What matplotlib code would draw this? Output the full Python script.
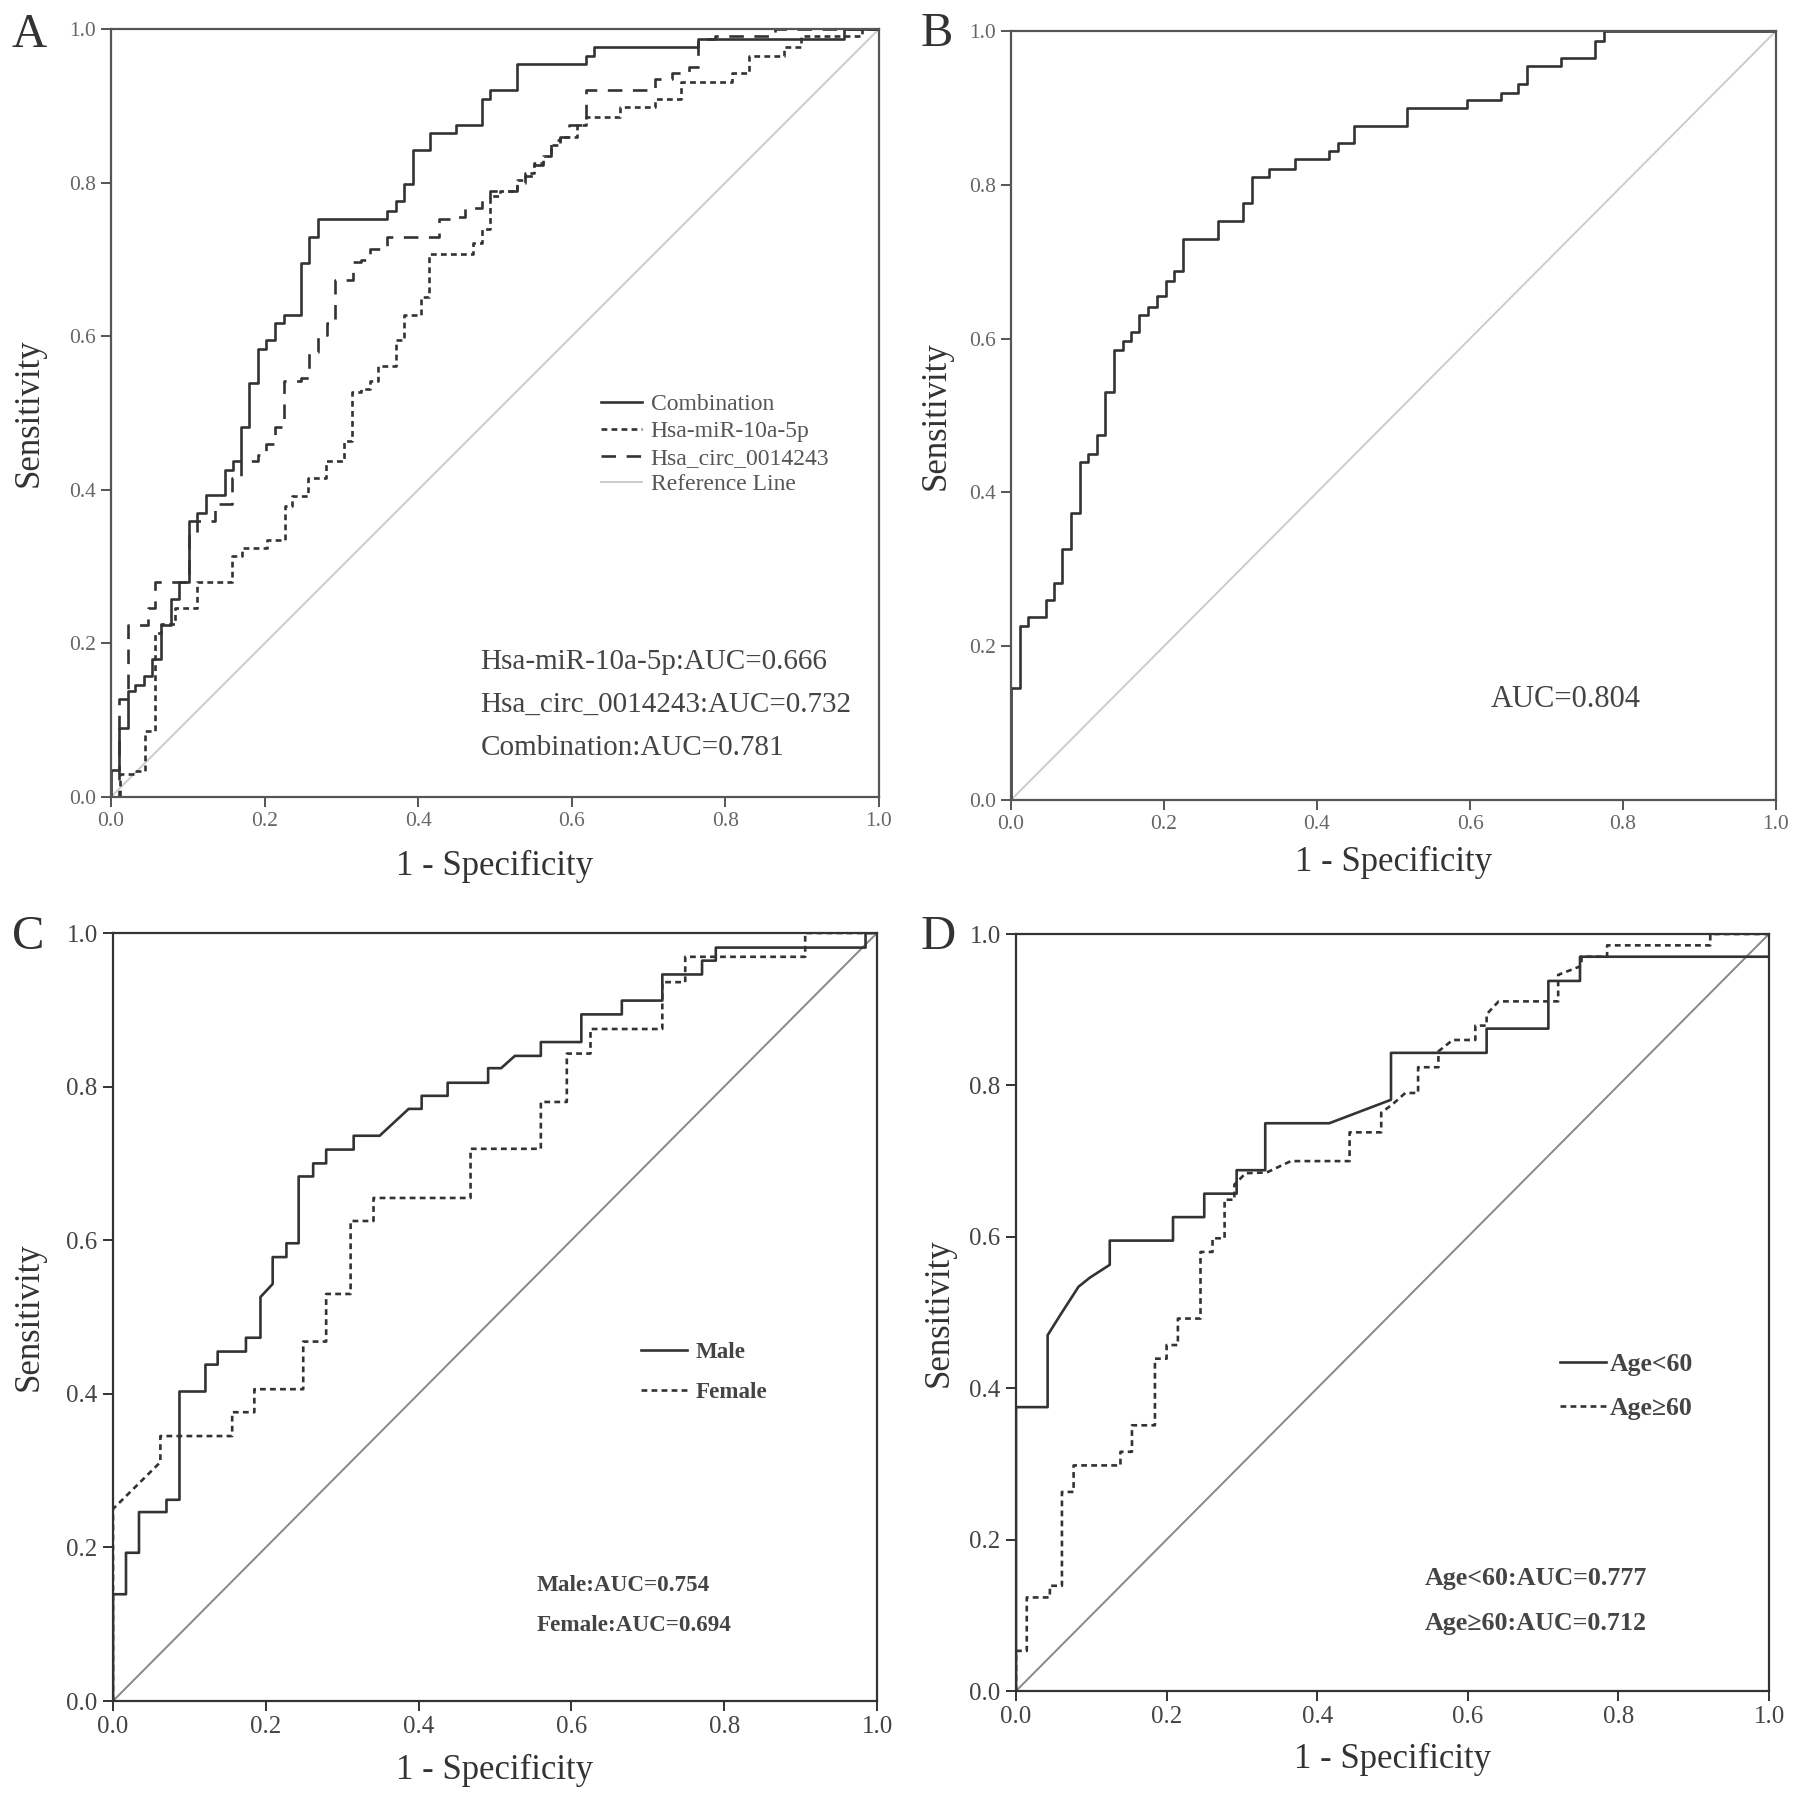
import matplotlib
matplotlib.use("Agg")
import matplotlib.pyplot as plt

plt.rcParams['font.family'] = ['Liberation Serif', 'DejaVu Serif']

# -------- Panel A: combined diagnosis (step points: rise at x to y) --------
comb_fpr = [0, 0, 0.0105, 0.022, 0.031, 0.043, 0.054, 0.065, 0.078, 0.089, 0.101, 0.112,
            0.124, 0.148, 0.159, 0.169, 0.180, 0.191, 0.202, 0.213, 0.225, 0.247, 0.258,
            0.270, 0.359, 0.371, 0.382, 0.393, 0.416, 0.449, 0.483, 0.494, 0.528, 0.618,
            0.629, 0.764, 0.955, 1.0]
comb_tpr = [0, 0.035, 0.09, 0.138, 0.146, 0.157, 0.18, 0.224, 0.258, 0.28, 0.359, 0.37,
            0.393, 0.426, 0.438, 0.482, 0.539, 0.583, 0.595, 0.617, 0.628, 0.695, 0.729,
            0.753, 0.763, 0.776, 0.798, 0.843, 0.864, 0.875, 0.909, 0.92, 0.954, 0.965,
            0.976, 0.987, 1.0, 1.0]

mir_fpr = [0, 0.012, 0.031, 0.044, 0.057, 0.065, 0.083, 0.112, 0.157, 0.170, 0.203, 0.226,
           0.236, 0.257, 0.280, 0.303, 0.314, 0.326, 0.337, 0.348, 0.371, 0.382, 0.404,
           0.414, 0.472, 0.483, 0.494, 0.506, 0.528, 0.539, 0.551, 0.562, 0.573, 0.584,
           0.607, 0.618, 0.663, 0.708, 0.742, 0.809, 0.831, 0.876, 0.899, 0.978, 1.0]
mir_tpr = [0, 0.03, 0.034, 0.086, 0.213, 0.225, 0.246, 0.28, 0.314, 0.324, 0.335, 0.379,
           0.392, 0.415, 0.438, 0.464, 0.527, 0.531, 0.542, 0.561, 0.595, 0.628, 0.651,
           0.707, 0.722, 0.740, 0.782, 0.789, 0.804, 0.812, 0.826, 0.834, 0.849, 0.860,
           0.875, 0.886, 0.898, 0.909, 0.931, 0.943, 0.965, 0.976, 0.991, 1.0, 1.0]

circ_fpr = [0, 0.010, 0.022, 0.048, 0.057, 0.101, 0.112, 0.135, 0.157, 0.169, 0.191, 0.202,
            0.213, 0.225, 0.247, 0.258, 0.270, 0.281, 0.292, 0.315, 0.326, 0.337, 0.360,
            0.427, 0.449, 0.461, 0.483, 0.494, 0.528, 0.539, 0.551, 0.562, 0.573, 0.584,
            0.596, 0.618, 0.708, 0.730, 0.753, 0.764, 0.787, 0.865, 1.0]
circ_tpr = [0, 0.127, 0.224, 0.246, 0.28, 0.34, 0.36, 0.381, 0.415, 0.438, 0.445, 0.46,
            0.482, 0.542, 0.546, 0.58, 0.602, 0.617, 0.673, 0.696, 0.699, 0.714, 0.729,
            0.752, 0.755, 0.767, 0.778, 0.789, 0.80, 0.808, 0.823, 0.834, 0.856, 0.860,
            0.875, 0.92, 0.935, 0.943, 0.95, 0.987, 0.991, 1.0, 1.0]

# -------- Panel B: all patients --------
all_fpr = [0, 0, 0.012, 0.0225, 0.046, 0.0565, 0.067, 0.078, 0.09, 0.10, 0.112, 0.123,
           0.134, 0.146, 0.157, 0.167, 0.179, 0.191, 0.202, 0.213, 0.225, 0.27, 0.303,
           0.315, 0.337, 0.371, 0.416, 0.427, 0.449, 0.517, 0.596, 0.64, 0.663, 0.674,
           0.719, 0.764, 0.775, 1.0]
all_tpr = [0, 0.145, 0.226, 0.238, 0.26, 0.282, 0.327, 0.373, 0.439, 0.45, 0.474, 0.53,
           0.585, 0.597, 0.608, 0.631, 0.641, 0.655, 0.675, 0.688, 0.73, 0.753, 0.776,
           0.81, 0.82, 0.834, 0.844, 0.855, 0.877, 0.9, 0.91, 0.92, 0.931, 0.955,
           0.965, 0.987, 1.0, 1.0]

# -------- Panel C: by gender (corner points) --------
male_fpr = [0, 0, 0.017, 0.017, 0.034, 0.034, 0.070, 0.070, 0.087, 0.087, 0.121, 0.121,
            0.137, 0.137, 0.174, 0.174, 0.193, 0.193, 0.209, 0.209, 0.227, 0.227, 0.243,
            0.243, 0.262, 0.262, 0.279, 0.279, 0.315, 0.315, 0.349, 0.387, 0.404, 0.404,
            0.438, 0.438, 0.491, 0.491, 0.508, 0.526, 0.560, 0.560, 0.613, 0.613, 0.666,
            0.666, 0.719, 0.719, 0.753, 0.753, 0.771, 0.771, 0.789, 0.789, 0.985, 0.985, 1.0]
male_tpr = [0, 0.139, 0.139, 0.193, 0.193, 0.246, 0.246, 0.262, 0.262, 0.403, 0.403, 0.438,
            0.438, 0.455, 0.455, 0.473, 0.473, 0.526, 0.543, 0.578, 0.578, 0.596, 0.596,
            0.683, 0.683, 0.70, 0.70, 0.718, 0.718, 0.736, 0.736, 0.771, 0.771, 0.788,
            0.788, 0.805, 0.805, 0.824, 0.824, 0.84, 0.84, 0.858, 0.858, 0.894, 0.894,
            0.912, 0.912, 0.946, 0.946, 0.946, 0.946, 0.964, 0.964, 0.981, 0.981, 1.0, 1.0]

female_fpr = [0, 0, 0.062, 0.062, 0.156, 0.156, 0.185, 0.185, 0.249, 0.249, 0.279, 0.279,
              0.311, 0.311, 0.341, 0.341, 0.468, 0.468, 0.560, 0.560, 0.594, 0.594, 0.625,
              0.625, 0.719, 0.719, 0.749, 0.749, 0.906, 0.906, 1.0]
female_tpr = [0, 0.25, 0.311, 0.345, 0.345, 0.376, 0.376, 0.406, 0.406, 0.468, 0.468, 0.53,
              0.53, 0.625, 0.625, 0.655, 0.655, 0.719, 0.719, 0.78, 0.78, 0.843, 0.843,
              0.875, 0.875, 0.936, 0.936, 0.969, 0.969, 1.0, 1.0]

# -------- Panel D: by age (corner points) --------
young_fpr = [0, 0, 0.042, 0.042, 0.059, 0.083, 0.098, 0.1245, 0.1245, 0.2085, 0.2085,
             0.25, 0.25, 0.293, 0.293, 0.331, 0.331, 0.416, 0.498, 0.498, 0.625, 0.625,
             0.707, 0.707, 0.749, 0.749, 1.0]
young_tpr = [0, 0.375, 0.375, 0.47, 0.497, 0.534, 0.546, 0.563, 0.595, 0.595, 0.626,
             0.626, 0.657, 0.657, 0.688, 0.688, 0.75, 0.75, 0.781, 0.843, 0.843, 0.875,
             0.875, 0.938, 0.938, 0.97, 0.97]

old_fpr = [0, 0, 0.0143, 0.0143, 0.045, 0.045, 0.061, 0.061, 0.0765, 0.0765, 0.1387,
           0.1387, 0.154, 0.154, 0.1845, 0.1845, 0.20, 0.20, 0.215, 0.215, 0.245, 0.245,
           0.261, 0.261, 0.277, 0.277, 0.29, 0.29, 0.305, 0.333, 0.365, 0.443, 0.443,
           0.485, 0.485, 0.50, 0.517, 0.534, 0.534, 0.561, 0.561, 0.58, 0.61, 0.61, 0.625,
           0.625, 0.641, 0.72, 0.72, 0.751, 0.751, 0.785, 0.785, 0.922, 0.922, 1.0]
old_tpr = [0, 0.053, 0.053, 0.1236, 0.1236, 0.139, 0.139, 0.263, 0.263, 0.298, 0.298,
           0.316, 0.316, 0.351, 0.351, 0.439, 0.439, 0.457, 0.457, 0.492, 0.492, 0.58,
           0.58, 0.598, 0.598, 0.649, 0.649, 0.669, 0.684, 0.685, 0.70, 0.70, 0.738,
           0.738, 0.764, 0.775, 0.79, 0.79, 0.824, 0.824, 0.845, 0.86, 0.86, 0.879, 0.879,
           0.894, 0.911, 0.911, 0.946, 0.958, 0.97, 0.97, 0.985, 0.985, 1.0, 1.0]

ticks = [0.0, 0.2, 0.4, 0.6, 0.8, 1.0]
tick_labels = ['0.0', '0.2', '0.4', '0.6', '0.8', '1.0']

W, H = 1795, 1801
fig = plt.figure(figsize=(W / 100, H / 100), dpi=100)


def make_axes(left, right, top, bottom):
    return fig.add_axes([left / W, 1 - bottom / H, (right - left) / W, (bottom - top) / H])


def style_axes(ax, tick_size, tick_color, spine_color, ref_color, ylab_x, xlab_y):
    ax.set_xlim(0, 1)
    ax.set_ylim(0, 1)
    ax.plot([0, 1], [0, 1], color=ref_color, lw=1.4, zorder=1)
    for s in ax.spines.values():
        s.set_color(spine_color)
        s.set_linewidth(1.6)
    ax.set_xticks(ticks)
    ax.set_yticks(ticks)
    ax.set_xticklabels(tick_labels)
    ax.set_yticklabels(tick_labels)
    ax.tick_params(direction='out', length=7, width=1.4, color=spine_color,
                   labelsize=tick_size, labelcolor=tick_color, pad=4)
    ax.set_ylabel('Sensitivity', fontsize=25, color='#333333')
    ax.set_xlabel('1 - Specificity', fontsize=25, color='#333333')
    ax.yaxis.set_label_coords(ylab_x, 0.5)
    ax.xaxis.set_label_coords(0.5, xlab_y)
    ax.yaxis.label.set_va('center')
    ax.xaxis.label.set_va('center')


line_col = '#333333'

# -------- Subplot A --------
axA = make_axes(111, 879, 29, 797)
style_axes(axA, 15.5, '#666666', '#555555', '#cccccc', -0.107, -0.090)
axA.plot(comb_fpr, comb_tpr, drawstyle='steps-post', color=line_col, lw=1.9, label='Combination')
axA.plot(mir_fpr, mir_tpr, drawstyle='steps-post', color=line_col, lw=1.9,
         ls=(0, (2.2, 1.6)), label='Hsa-miR-10a-5p')
axA.plot(circ_fpr, circ_tpr, drawstyle='steps-post', color=line_col, lw=1.9,
         ls=(0, (5.5, 4.0)), label='Hsa_circ_0014243')
axA.plot([], [], color='#cccccc', lw=1.4, label='Reference Line')
axA.legend(loc='upper left', bbox_to_anchor=(0.638, 0.525), frameon=False, fontsize=17,
           labelcolor='#555555', handlelength=1.75, handletextpad=0.35, labelspacing=0.22,
           borderpad=0, borderaxespad=0)
axA.text(0.481, 0.176, 'Hsa-miR-10a-5p:AUC=0.666', transform=axA.transAxes, fontsize=21,
         color='#444444', va='center')
axA.text(0.481, 0.120, 'Hsa_circ_0014243:AUC=0.732', transform=axA.transAxes, fontsize=21,
         color='#444444', va='center')
axA.text(0.481, 0.064, 'Combination:AUC=0.781', transform=axA.transAxes, fontsize=21,
         color='#444444', va='center')

# -------- Subplot B --------
axB = make_axes(1011, 1776, 31, 800)
style_axes(axB, 15.5, '#666666', '#555555', '#cccccc', -0.098, -0.081)
axB.plot(all_fpr, all_tpr, drawstyle='steps-post', color=line_col, lw=1.9)
axB.text(0.627, 0.131, 'AUC=0.804', transform=axB.transAxes, fontsize=22,
         color='#444444', va='center')

# -------- Subplot C --------
axC = make_axes(113, 877, 933, 1701)
style_axes(axC, 18, '#444444', '#333333', '#888888', -0.110, -0.091)
axC.plot(male_fpr, male_tpr, color=line_col, lw=1.9, label='Male')
axC.plot(female_fpr, female_tpr, color=line_col, lw=1.9, ls=(0, (2.2, 1.6)), label='Female')
axC.legend(loc='upper left', bbox_to_anchor=(0.691, 0.468), frameon=False,
           prop={'size': 16.6, 'weight': 'bold'}, labelcolor='#444444', handlelength=2.0,
           handletextpad=0.35, labelspacing=0.85, borderpad=0, borderaxespad=0)
axC.text(0.555, 0.150, 'Male:AUC=0.754', transform=axC.transAxes, fontsize=16.7,
         fontweight='bold', color='#444444', va='center')
axC.text(0.555, 0.098, 'Female:AUC=0.694', transform=axC.transAxes, fontsize=16.7,
         fontweight='bold', color='#444444', va='center')

# -------- Subplot D --------
axD = make_axes(1016, 1769, 934, 1691)
style_axes(axD, 18, '#444444', '#333333', '#888888', -0.102, -0.090)
axD.plot(young_fpr, young_tpr, color=line_col, lw=1.9, label='Age<60')
axD.plot(old_fpr, old_tpr, color=line_col, lw=1.9, ls=(0, (2.2, 1.6)), label='Age≥60')
axD.legend(loc='upper left', bbox_to_anchor=(0.722, 0.446), frameon=False,
           prop={'size': 18.5, 'weight': 'bold'}, labelcolor='#444444', handlelength=1.8,
           handletextpad=0.15, labelspacing=0.8, borderpad=0, borderaxespad=0)
axD.text(0.543, 0.149, 'Age<60:AUC=0.777', transform=axD.transAxes, fontsize=18.7,
         fontweight='bold', color='#444444', va='center')
axD.text(0.543, 0.089, 'Age≥60:AUC=0.712', transform=axD.transAxes, fontsize=18.7,
         fontweight='bold', color='#444444', va='center')

# -------- Panel letters --------
for letter, px, py in [('A', 12, 13), ('B', 921, 12), ('C', 12, 915), ('D', 921, 915)]:
    fig.text(px / W, 1 - py / H, letter, fontsize=35, color='#333333', va='top', ha='left')

fig.savefig('out.png', dpi=100, facecolor='white')
